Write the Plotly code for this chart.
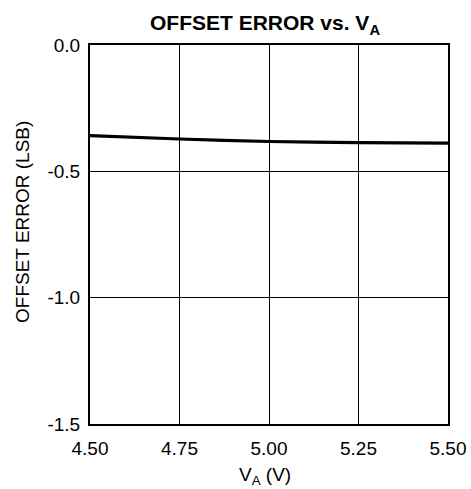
import plotly.graph_objects as go

va = [4.50, 4.75, 5.00, 5.25, 5.50]
offset_error = [-0.359, -0.372, -0.382, -0.386, -0.388]
x_ticks = [4.50, 4.75, 5.00, 5.25, 5.50]
x_tick_labels = ["4.50", "4.75", "5.00", "5.25", "5.50"]
y_ticks = [0.0, -0.5, -1.0, -1.5]
y_tick_labels = ["0.0", "-0.5", "-1.0", "-1.5"]

FONT = "Liberation Sans, Arial, sans-serif"
FS = 19

fig = go.Figure()
fig.add_trace(go.Scatter(x=va, y=offset_error, mode="lines",
                         line=dict(color="black", width=3.2, shape="spline", smoothing=0.6),
                         showlegend=False, hoverinfo="skip"))

fig.update_layout(
    template="none",
    width=471, height=489,
    margin=dict(l=90, r=23, t=45, b=65, autoexpand=False),
    paper_bgcolor="white", plot_bgcolor="white",
    font=dict(family=FONT, size=FS, color="black"),
    title=dict(text="<b>OFFSET ERROR vs. V<sub>A</sub></b>", x=265/471, xanchor="center",
               y=1 - 23/489, yanchor="middle", font=dict(size=21, family=FONT)),
    xaxis=dict(range=[4.5, 5.5], tickmode="array", tickvals=x_ticks, ticktext=x_tick_labels,
               showgrid=True, gridcolor="black", gridwidth=1,
               showline=True, linecolor="black", linewidth=2, mirror=True,
               ticks="outside", ticklen=0, tickfont=dict(size=FS), ticklabelstandoff=6,
               automargin=False, zeroline=False, fixedrange=True),
    yaxis=dict(range=[-1.5, 0.0], tickmode="array", tickvals=y_ticks, ticktext=y_tick_labels,
               showgrid=True, gridcolor="black", gridwidth=1,
               showline=True, linecolor="black", linewidth=2, mirror=True,
               ticks="outside", ticklen=0, tickfont=dict(size=FS), ticklabelstandoff=4,
               automargin=False, zeroline=False, fixedrange=True),
    annotations=[
        dict(text="OFFSET ERROR (LSB)", textangle=-90, xref="paper", yref="paper",
             x=-(90 - 22) / 358, y=(424 - 222) / 379, xanchor="center", yanchor="middle",
             showarrow=False, font=dict(size=FS, family=FONT)),
        dict(text="V<sub>A</sub> (V)", xref="paper", yref="paper",
             x=(265 - 90) / 358, y=-(476 - 424) / 379, xanchor="center", yanchor="middle",
             showarrow=False, font=dict(size=FS, family=FONT)),
    ],
)

fig.write_html("out.html", config={"displayModeBar": False},
               post_script="document.body.style.margin='0';document.body.style.overflow='hidden';")
